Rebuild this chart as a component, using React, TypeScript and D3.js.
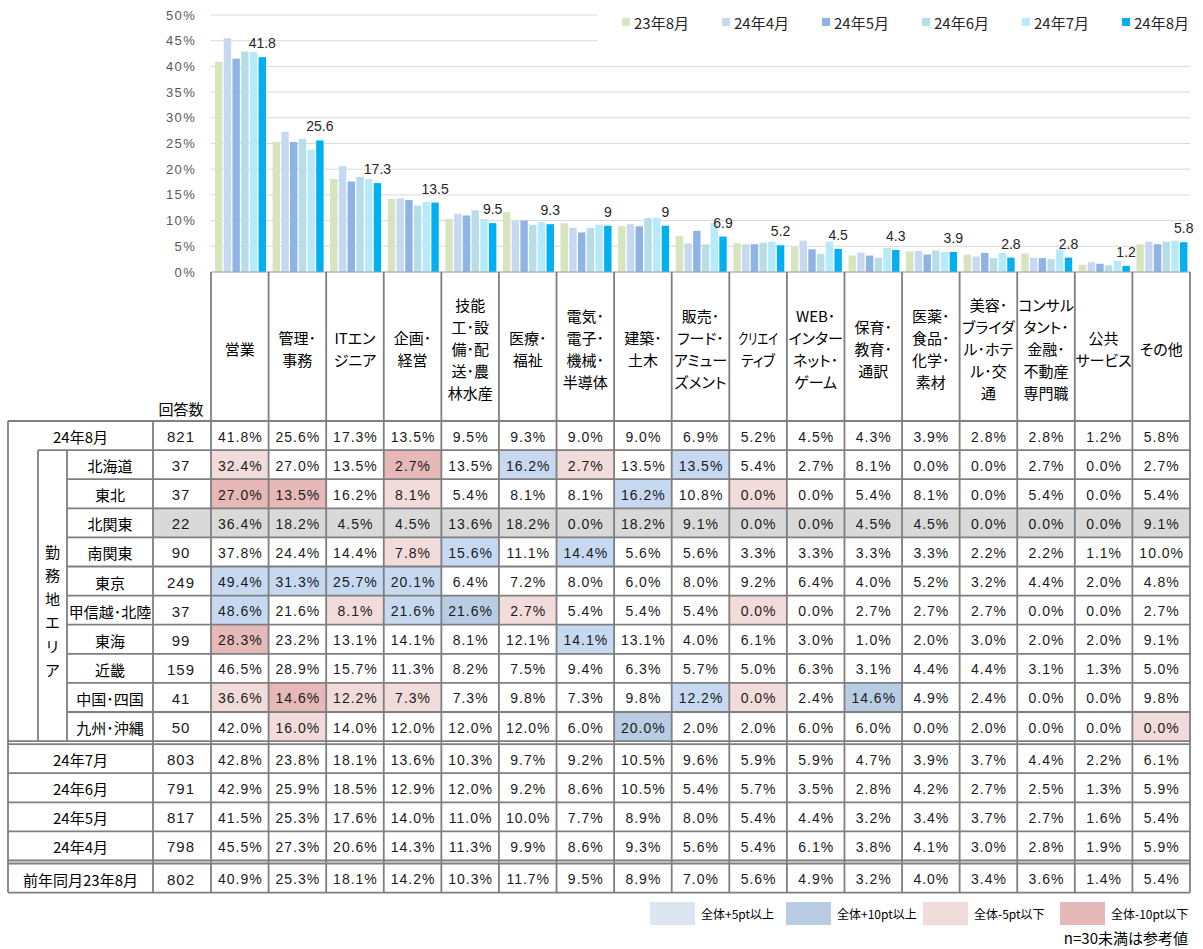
import React from 'react';
import * as d3 from 'd3';

// ---------- data ----------
const categoryLabels: string[][] = [
  ['営業'],
  ['管理･', '事務'],
  ['ITエン', 'ジニア'],
  ['企画･', '経営'],
  ['技能', '工･設', '備･配', '送･農', '林水産'],
  ['医療･', '福祉'],
  ['電気･', '電子･', '機械･', '半導体'],
  ['建築･', '土木'],
  ['販売･', 'フード･', 'アミュー', 'ズメント'],
  ['クリエイ', 'ティブ'],
  ['WEB･', 'インター', 'ネット･', 'ゲーム'],
  ['保育･', '教育･', '通訳'],
  ['医薬･', '食品･', '化学･', '素材'],
  ['美容･', 'ブライダ', 'ル･ホテ', 'ル･交', '通'],
  ['コンサル', 'タント･', '金融･', '不動産', '専門職'],
  ['公共', 'サービス'],
  ['その他'],
];

const seriesNames = ['23年8月', '24年4月', '24年5月', '24年6月', '24年7月', '24年8月'];
const seriesColors = ['#D7E4BD', '#C6D9F1', '#8EB4E3', '#B7DEE8', '#B6EAFB', '#00B0F0'];
const yTicks = [0, 5, 10, 15, 20, 25, 30, 35, 40, 45, 50];

const aug24 = [41.8, 25.6, 17.3, 13.5, 9.5, 9.3, 9.0, 9.0, 6.9, 5.2, 4.5, 4.3, 3.9, 2.8, 2.8, 1.2, 5.8];
const jul24 = [42.8, 23.8, 18.1, 13.6, 10.3, 9.7, 9.2, 10.5, 9.6, 5.9, 5.9, 4.7, 3.9, 3.7, 4.4, 2.2, 6.1];
const jun24 = [42.9, 25.9, 18.5, 12.9, 12.0, 9.2, 8.6, 10.5, 5.4, 5.7, 3.5, 2.8, 4.2, 2.7, 2.5, 1.3, 5.9];
const may24 = [41.5, 25.3, 17.6, 14.0, 11.0, 10.0, 7.7, 8.9, 8.0, 5.4, 4.4, 3.2, 3.4, 3.7, 2.7, 1.6, 5.4];
const apr24 = [45.5, 27.3, 20.6, 14.3, 11.3, 9.9, 8.6, 9.3, 5.6, 5.4, 6.1, 3.8, 4.1, 3.0, 2.8, 1.9, 5.9];
const aug23 = [40.9, 25.3, 18.1, 14.2, 10.3, 11.7, 9.5, 8.9, 7.0, 5.6, 4.9, 3.2, 4.0, 3.4, 3.6, 1.4, 5.4];

const hokkaido = [32.4, 27.0, 13.5, 2.7, 13.5, 16.2, 2.7, 13.5, 13.5, 5.4, 2.7, 8.1, 0.0, 0.0, 2.7, 0.0, 2.7];
const tohoku = [27.0, 13.5, 16.2, 8.1, 5.4, 8.1, 8.1, 16.2, 10.8, 0.0, 0.0, 5.4, 8.1, 0.0, 5.4, 0.0, 5.4];
const kitakanto = [36.4, 18.2, 4.5, 4.5, 13.6, 18.2, 0.0, 18.2, 9.1, 0.0, 0.0, 4.5, 4.5, 0.0, 0.0, 0.0, 9.1];
const minamikanto = [37.8, 24.4, 14.4, 7.8, 15.6, 11.1, 14.4, 5.6, 5.6, 3.3, 3.3, 3.3, 3.3, 2.2, 2.2, 1.1, 10.0];
const tokyo = [49.4, 31.3, 25.7, 20.1, 6.4, 7.2, 8.0, 6.0, 8.0, 9.2, 6.4, 4.0, 5.2, 3.2, 4.4, 2.0, 4.8];
const koshinetsu = [48.6, 21.6, 8.1, 21.6, 21.6, 2.7, 5.4, 5.4, 5.4, 0.0, 0.0, 2.7, 2.7, 2.7, 0.0, 0.0, 2.7];
const tokai = [28.3, 23.2, 13.1, 14.1, 8.1, 12.1, 14.1, 13.1, 4.0, 6.1, 3.0, 1.0, 2.0, 3.0, 2.0, 2.0, 9.1];
const kinki = [46.5, 28.9, 15.7, 11.3, 8.2, 7.5, 9.4, 6.3, 5.7, 5.0, 6.3, 3.1, 4.4, 4.4, 3.1, 1.3, 5.0];
const chushikoku = [36.6, 14.6, 12.2, 7.3, 7.3, 9.8, 7.3, 9.8, 12.2, 0.0, 2.4, 14.6, 4.9, 2.4, 0.0, 0.0, 9.8];
const kyushu = [42.0, 16.0, 14.0, 12.0, 12.0, 12.0, 6.0, 20.0, 2.0, 2.0, 6.0, 6.0, 0.0, 2.0, 0.0, 0.0, 0.0];

const regionNames = ['北海道', '東北', '北関東', '南関東', '東京', '甲信越･北陸', '東海', '近畿', '中国･四国', '九州･沖縄'];
const regionCounts = [37, 37, 22, 90, 249, 37, 99, 159, 41, 50];
const regionValues = [hokkaido, tohoku, kitakanto, minamikanto, tokyo, koshinetsu, tokai, kinki, chushikoku, kyushu];

const monthNames = ['24年7月', '24年6月', '24年5月', '24年4月'];
const monthCounts = [803, 791, 817, 798];
const monthValues = [jul24, jun24, may24, apr24];

const legendLabels = ['全体+5pt以上', '全体+10pt以上', '全体-5pt以下', '全体-10pt以下'];
const legendColors = ['#DCE6F1', '#B8CCE4', '#F2DCDB', '#E6B8B7'];

// narrow-set header lines (rendered condensed, as in the source)
const condensedWidth: Record<string, number> = { 'クリエイ': 40, 'ティブ': 34 };

// ---------- layout ----------
const W = 1203, H = 949;
const X0 = 211, X1 = 1190;
const CJK = '"Noto Sans CJK JP", sans-serif';
const NUM = '"Liberation Sans", Arial, sans-serif';
const LINE = '#7F7F7F';

const y = d3.scaleLinear().domain([0, 50]).range([272, 15]);
const x = d3.scaleBand<number>().domain(d3.range(categoryLabels.length)).range([X0, X1]);
const xi = d3.scaleBand<string>().domain(seriesNames).range([4, 55]).paddingInner(0.15);

const barSeries = [aug23, apr24, may24, jun24, jul24, aug24];

const ROW_H = 29.1;
const TOP = 421;
const R0 = TOP + ROW_H;
const REG_END = R0 + ROW_H * 10;
const M0 = REG_END + 3;
const M_END = M0 + ROW_H * 4;
const P0 = M_END + 3;
const BOTTOM = P0 + ROW_H;

function cellColor(v: number, base: number, smallN: boolean): string | null {
  if (smallN) return '#D9D9D9';
  const d = +(v - base).toFixed(1);
  if (d >= 10) return '#B8CCE4';
  if (d >= 5) return '#C6D9F1';
  if (d <= -10) return '#E6B8B7';
  if (d <= -5) return '#F2DCDB';
  return null;
}

export default function App() {
  const cols = d3.range(categoryLabels.length);
  const bw = x.bandwidth();

  const valueCells = (vals: number[], top: number, key: string, highlight: boolean, smallN: boolean) =>
    vals.map((v, i) => {
      const c = highlight ? cellColor(v, aug24[i], smallN) : null;
      return (
        <g key={key + i}>
          {c && <rect x={x(i)!} y={top} width={bw} height={ROW_H} fill={c} />}
          <text x={x(i)! + bw / 2 + 0.5} y={top + ROW_H / 2 + 1} textAnchor="middle" dominantBaseline="central"
            fontFamily={NUM} fontSize={14} letterSpacing={1} fill="#1a1a1a">{v.toFixed(1) + '%'}</text>
        </g>
      );
    });

  const hLines: [number, number, number][] = [];
  hLines.push([8, X1, TOP]);
  hLines.push([38, X1, R0]);
  for (let i = 1; i < 10; i++) hLines.push([67, X1, R0 + i * ROW_H]);
  hLines.push([8, X1, REG_END]);
  hLines.push([8, X1, M0]);
  for (let i = 1; i < 4; i++) hLines.push([8, X1, M0 + i * ROW_H]);
  hLines.push([8, X1, M_END]);
  hLines.push([8, X1, P0]);
  hLines.push([8, X1, BOTTOM]);

  const vLines: [number, number, number][] = [];
  vLines.push([8, TOP, BOTTOM]);
  vLines.push([38, R0, REG_END]);
  vLines.push([67, R0, REG_END]);
  vLines.push([153, TOP, BOTTOM]);
  d3.range(categoryLabels.length + 1).forEach((i) => {
    const xx = i === categoryLabels.length ? X1 : x(i)!;
    vLines.push([xx, 272, BOTTOM]);
  });

  const vertLabel = ['勤', '務', '地', 'エ', 'リ', 'ア'];

  return (
    <div style={{ position: 'absolute', left: 0, top: 0 }}>
      <svg width={W} height={H} style={{ display: 'block', background: '#fff' }}>
        {yTicks.map((t) => (
          <line key={'g' + t} x1={X0} x2={X1} y1={y(t)} y2={y(t)} stroke="#D9D9D9" strokeWidth={1} />
        ))}
        {yTicks.map((t) => (
          <text key={'yt' + t} x={196} y={y(t)} textAnchor="end" dominantBaseline="central"
            fontFamily={NUM} fontSize={13} letterSpacing={1.3} fill="#595959">{t + '%'}</text>
        ))}
        <rect x={597} y={4} width={600} height={44} fill="#fff" />
        {seriesNames.map((s, k) => (
          <g key={'lg' + s}>
            <rect x={622 + k * 100} y={18} width={8} height={8} fill={seriesColors[k]} />
            <text x={634 + k * 100} y={22.5} dominantBaseline="central" fontFamily={CJK} fontSize={15}
              fill="#262626">{s}</text>
          </g>
        ))}
        {cols.map((i) => (
          <g key={'bg' + i} transform={`translate(${x(i)},0)`}>
            {seriesNames.map((s, k) => (
              <rect key={s} x={xi(s)!} y={y(barSeries[k][i])} width={xi.bandwidth()}
                height={y(0) - y(barSeries[k][i])} fill={seriesColors[k]} />
            ))}
            <text x={xi('24年8月')! + xi.bandwidth() / 2} y={y(aug24[i]) - 9} textAnchor="middle"
              fontFamily={NUM} fontSize={14} fill="#262626">{String(aug24[i])}</text>
          </g>
        ))}
        <line x1={X0} x2={X1} y1={272} y2={272} stroke="#A6A6A6" strokeWidth={1} />

        {categoryLabels.map((lines, i) => {
          const lh = 22;
          const cy = 348;
          return (
            <g key={'h' + i}>
              {lines.map((ln, j) => {
                const cw = condensedWidth[ln];
                return (
                  <text key={j} x={x(i)! + bw / 2} y={cy + (j - (lines.length - 1) / 2) * lh}
                    textAnchor="middle" dominantBaseline="central" fontFamily={CJK} fontSize={15} fill="#000"
                    style={{ fontFeatureSettings: '"palt"' }}
                    {...(cw ? { textLength: cw, lengthAdjust: 'spacingAndGlyphs' } : {})}>{ln}</text>
                );
              })}
            </g>
          );
        })}
        <text x={181} y={408} textAnchor="middle" dominantBaseline="central" fontFamily={CJK} fontSize={15}
          fill="#000">回答数</text>

        <text x={80.5} y={TOP + ROW_H / 2 + 1} textAnchor="middle" dominantBaseline="central" fontFamily={CJK}
          fontSize={15} fill="#000">24年8月</text>
        <text x={181} y={TOP + ROW_H / 2 + 1} textAnchor="middle" dominantBaseline="central" fontFamily={NUM}
          fontSize={15} letterSpacing={1} fill="#1a1a1a">821</text>
        {valueCells(aug24, TOP, 'a', false, false)}

        {regionNames.map((nm, r) => {
          const top = R0 + r * ROW_H;
          const small = regionCounts[r] < 30;
          return (
            <g key={'r' + r}>
              {small && <rect x={153} y={top} width={X1 - 153} height={ROW_H} fill="#D9D9D9" />}
              <text x={110} y={top + ROW_H / 2 + 1} textAnchor="middle" dominantBaseline="central"
                fontFamily={CJK} fontSize={15} fill="#000">{nm}</text>
              <text x={181} y={top + ROW_H / 2 + 1} textAnchor="middle" dominantBaseline="central"
                fontFamily={NUM} fontSize={15} letterSpacing={1} fill="#1a1a1a">{regionCounts[r]}</text>
              {valueCells(regionValues[r], top, 'rv' + r, true, small)}
            </g>
          );
        })}
        {vertLabel.map((ch, k) => (
          <text key={'vl' + k} x={52.5} y={551 + k * 23.6} textAnchor="middle" dominantBaseline="central"
            fontFamily={CJK} fontSize={15} fill="#000">{ch}</text>
        ))}

        {monthNames.map((nm, r) => {
          const top = M0 + r * ROW_H;
          return (
            <g key={'m' + r}>
              <text x={80.5} y={top + ROW_H / 2 + 1} textAnchor="middle" dominantBaseline="central"
                fontFamily={CJK} fontSize={15} fill="#000">{nm}</text>
              <text x={181} y={top + ROW_H / 2 + 1} textAnchor="middle" dominantBaseline="central"
                fontFamily={NUM} fontSize={15} letterSpacing={1} fill="#1a1a1a">{monthCounts[r]}</text>
              {valueCells(monthValues[r], top, 'mv' + r, false, false)}
            </g>
          );
        })}
        <text x={80.5} y={P0 + ROW_H / 2 + 1} textAnchor="middle" dominantBaseline="central" fontFamily={CJK}
          fontSize={15} fill="#000">前年同月23年8月</text>
        <text x={181} y={P0 + ROW_H / 2 + 1} textAnchor="middle" dominantBaseline="central" fontFamily={NUM}
          fontSize={15} letterSpacing={1} fill="#1a1a1a">802</text>
        {valueCells(aug23, P0, 'p', false, false)}

        {hLines.map(([a, b, yy], k) => (
          <line key={'hl' + k} x1={a} x2={b} y1={yy} y2={yy} stroke={LINE} strokeWidth={1.8} />
        ))}
        {vLines.map(([xx, a, b], k) => (
          <line key={'vl2' + k} x1={xx} x2={xx} y1={a} y2={b} stroke={LINE} strokeWidth={1.8} />
        ))}

        {legendLabels.map((lb, k) => {
          const lx = [650, 786, 923, 1060][k];
          return (
            <g key={'bl' + k}>
              <rect x={lx} y={902} width={45} height={23} fill={legendColors[k]} />
              <text x={lx + 51} y={913.5} dominantBaseline="central" fontFamily={CJK} fontSize={12}
                fill="#000">{lb}</text>
            </g>
          );
        })}
        <text x={1188} y={937} textAnchor="end" dominantBaseline="central" fontFamily={CJK} fontSize={15}
          fill="#000">n=30未満は参考値</text>
      </svg>
    </div>
  );
}
